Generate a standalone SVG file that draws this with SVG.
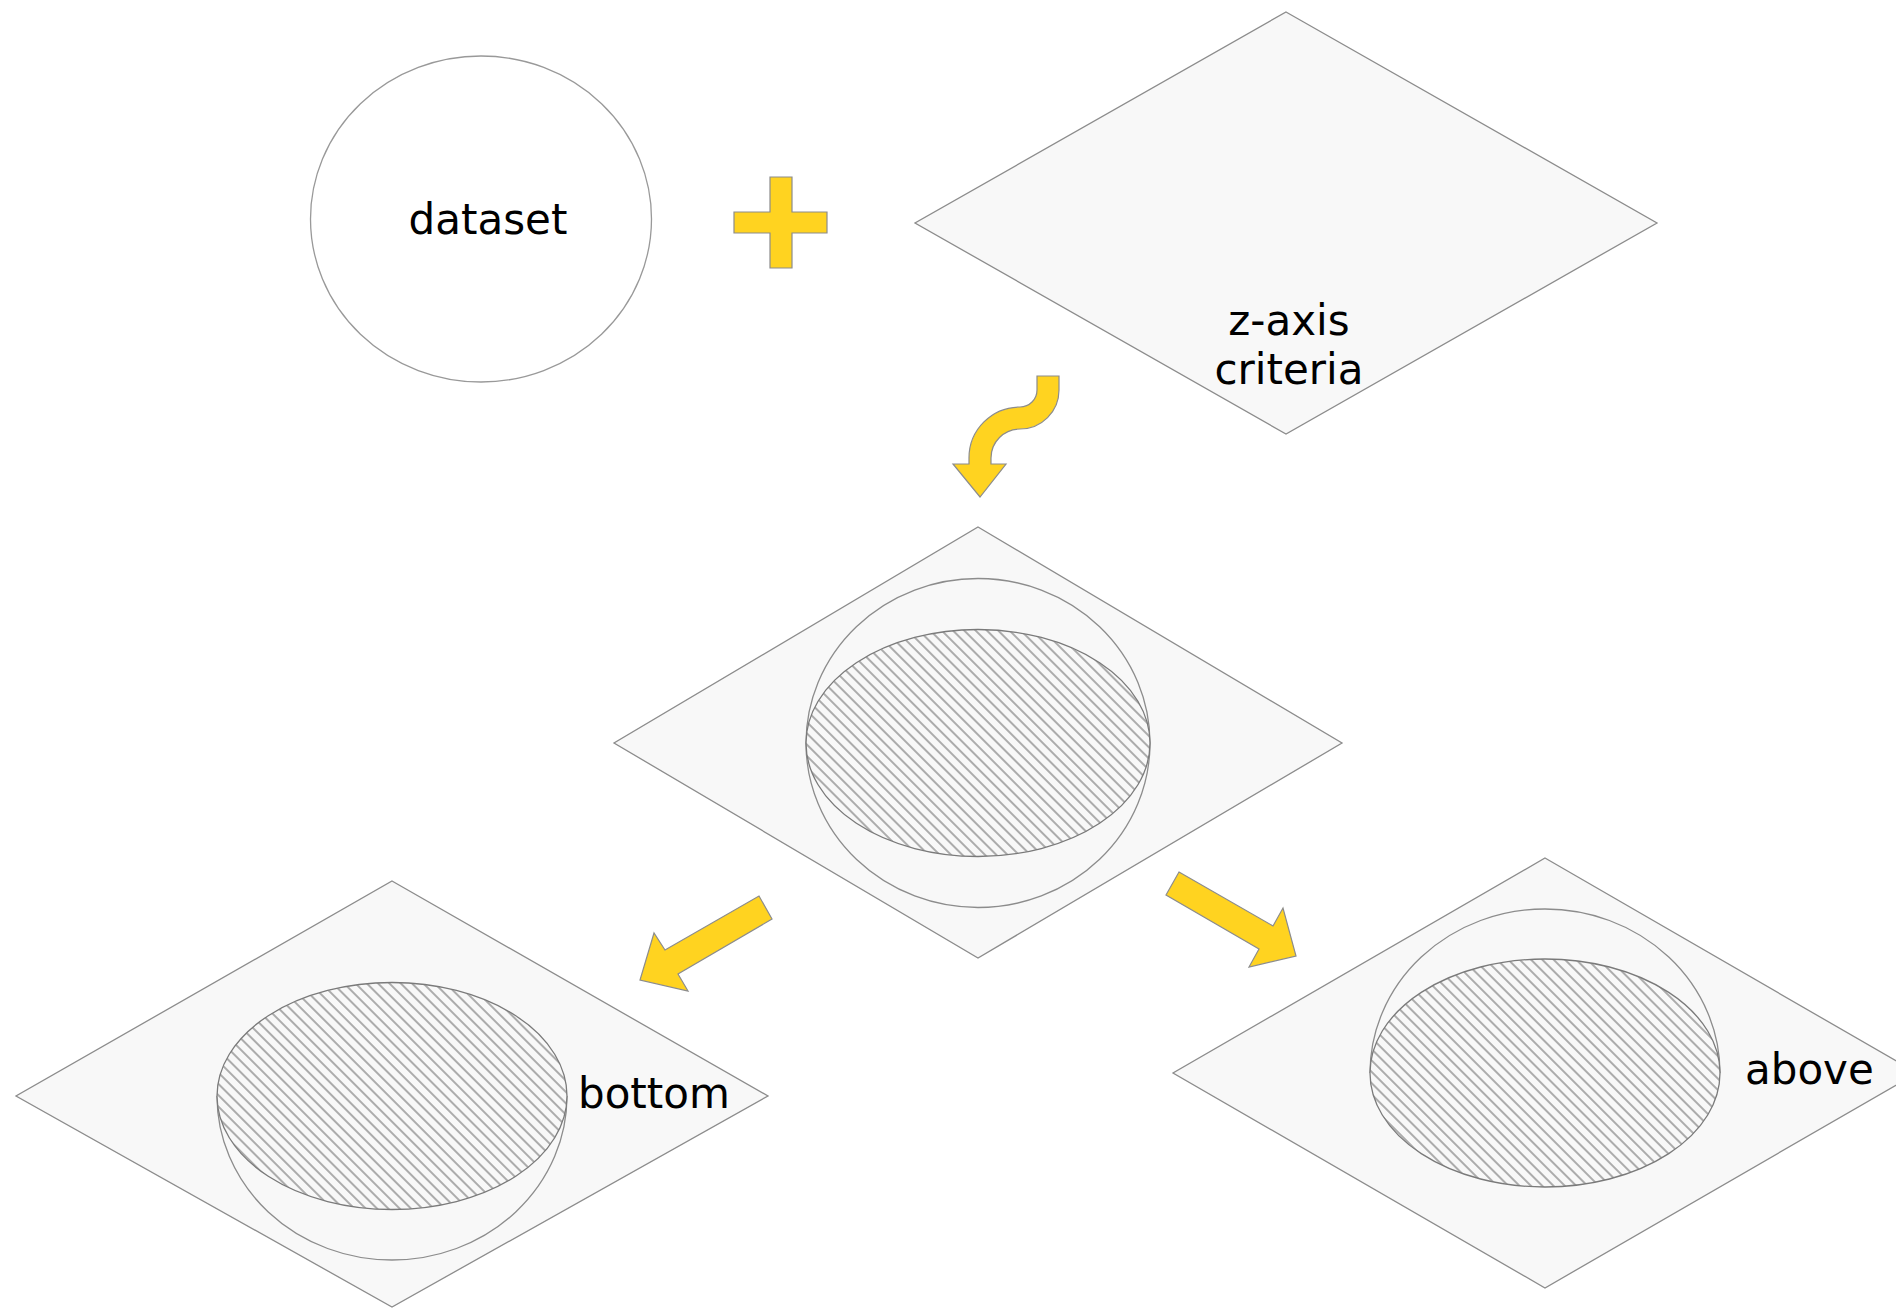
<svg xmlns="http://www.w3.org/2000/svg" width="1896" height="1308" viewBox="0 0 1896 1308">
<defs>
<style>
.plane{fill:#f8f8f8;stroke:#8c8c8c;stroke-width:1.3}
.ring{fill:none;stroke:#8c8c8c;stroke-width:1.3}
.hatch{fill:url(#hatch);stroke:#7a7a7a;stroke-width:1.3}
.arrow{fill:#ffd320;stroke:#8c8c8c;stroke-width:1.2;stroke-linejoin:miter}
.lbl{font-family:"DejaVu Sans","Noto Sans",sans-serif;font-size:42px;fill:#000}
</style>
<pattern id="hatch" patternUnits="userSpaceOnUse" width="8" height="8" patternTransform="rotate(45)">
<rect width="8" height="8" fill="#f8f8f8"/>
<line x1="0" y1="4" x2="8" y2="4" stroke="#6e6e6e" stroke-width="1.1"/>
</pattern>
</defs>
<rect width="1896" height="1308" fill="#ffffff"/>

<g id="dataset">
<ellipse cx="481" cy="219" rx="170.5" ry="163" fill="#ffffff" stroke="#999999" stroke-width="1.3"/>
<text class="lbl" x="488" y="234" text-anchor="middle">dataset</text>
</g>

<g id="zaxis-criteria">
<polygon class="plane" points="1286,12 1657,223 1286,434 915,223"/>
<text class="lbl" x="1289" y="335" text-anchor="middle">z-axis</text>
<text class="lbl" x="1289" y="384" text-anchor="middle">criteria</text>
</g>

<g id="split">
<polygon class="plane" points="978,527 1342,743 978,958 614,743"/>
<ellipse class="ring" cx="978" cy="743" rx="172" ry="164.5"/>
<ellipse class="hatch" cx="978" cy="743" rx="172" ry="113.5"/>
</g>

<g id="bottom">
<polygon class="plane" points="392,881 768,1096 392,1307 16,1096"/>
<path class="ring" d="M217,1096 A175,164 0 0 0 567,1096"/>
<ellipse class="hatch" cx="392" cy="1096" rx="175" ry="113.5"/>
<text class="lbl" x="578" y="1108">bottom</text>
</g>

<g id="above">
<polygon class="plane" points="1545,858 1917,1073 1545,1288 1173,1073"/>
<path class="ring" d="M1370,1073 A175,164 0 0 1 1720,1073"/>
<ellipse class="hatch" cx="1545" cy="1073" rx="175" ry="114"/>
<text class="lbl" x="1745" y="1084">above</text>
</g>

<g id="connectors">
<polygon class="arrow" points="770,177 792,177 792,212 827,212 827,233 792,233 792,268 770,268 770,233 734,233 734,212 770,212"/>
<path class="arrow" d="M1059,376 V390 A39,39 0 0 1 1020,429 A29,29 0 0 0 991,458 V464 L1006,464 L980,497 L953,464 L969,464 V458 A51,51 0 0 1 1020,407 A17,17 0 0 0 1037,390 V376 Z"/>
<polygon class="arrow" points="759,896 772,919 678,974 688,991 640,980 654,933 665,950"/>
<polygon class="arrow" points="1179,872 1273,926 1283,908 1296,956 1249,967 1259,949 1166,895"/>
</g>
</svg>
